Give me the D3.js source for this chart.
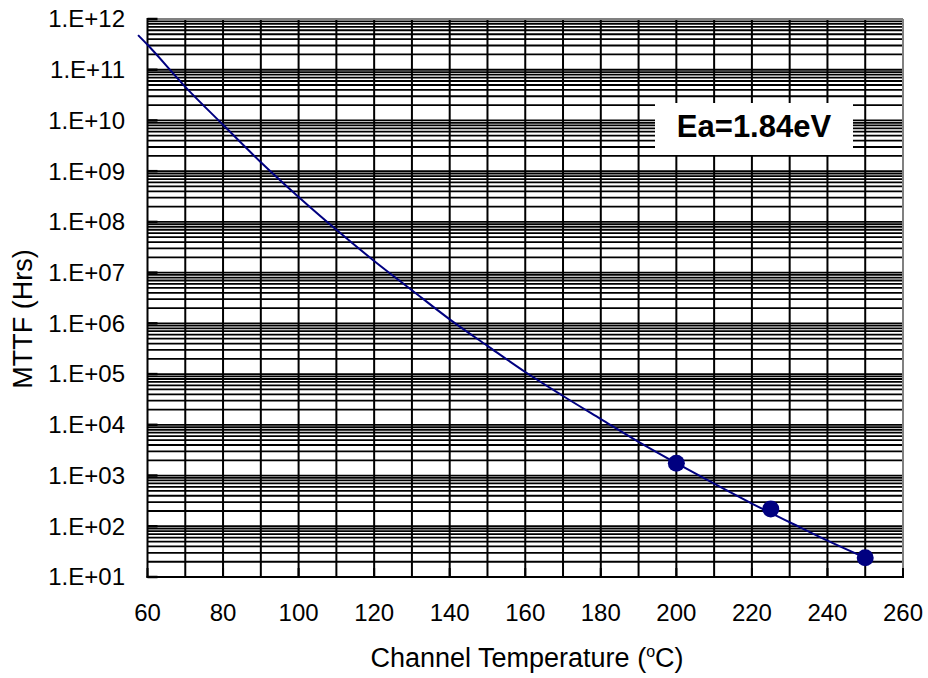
<!DOCTYPE html>
<html lang="en">
<head>
  <meta charset="UTF-8">
  <title>MTTF vs Channel Temperature</title>
  <style>
    body, html {
      margin: 0;
      padding: 0;
      background: #fff;
    }
    text {
      font-family: "Liberation Sans", Arial, sans-serif;
    }
  </style>
</head>
<body>
  <svg id="svg" width="928" height="678"></svg>

  <script src="https://d3js.org/d3.v7.min.js"></script>
  <script>
    // fitted curve
    const lineTemp = [57.5, 60, 70, 80, 90, 100, 110, 120, 130, 140, 150, 160, 170, 180, 190, 200, 210, 220, 230, 240, 250]
    const lineMttf = [4.8e11, 3.1e11, 4.6e10, 8.2e9, 1.5e9, 3.1e8, 7.0e7, 1.7e7, 4.5e6, 1.2e6, 3.6e5, 1.1e5, 3.7e4, 1.3e4, 4.6e3, 1.75e3, 6.9e2, 2.8e2, 1.2e2, 52, 24]

    // measured points
    const pointTemp = [200, 225, 250]
    const pointMttf = [1.75e3, 2.2e2, 24]

    const xTicks = [60, 80, 100, 120, 140, 160, 180, 200, 220, 240, 260]
    const yTicks = [1e1, 1e2, 1e3, 1e4, 1e5, 1e6, 1e7, 1e8, 1e9, 1e10, 1e11, 1e12]
    const yTickLabels = ['1.E+01', '1.E+02', '1.E+03', '1.E+04', '1.E+05', '1.E+06',
      '1.E+07', '1.E+08', '1.E+09', '1.E+10', '1.E+11', '1.E+12']

    // plot box (note: "top" is taken by window.top)
    const pLeft = 147.5, pRight = 903, pTop = 19, pBottom = 577

    const x = d3.scaleLinear().domain([60, 260]).range([pLeft, pRight])
    const y = d3.scaleLog().domain([1e1, 1e12]).range([pBottom, pTop])

    const svg = d3.select('#svg')

    // horizontal grid: every 1..9 x 10^k
    const minor = []
    for (let k = 1; k < 12; k++) {
      for (let m = 1; m < 10; m++) minor.push(m * Math.pow(10, k))
    }
    minor.push(1e12)

    svg.append('g')
      .selectAll('line')
      .data(minor)
      .join('line')
      .attr('x1', pLeft).attr('x2', pRight)
      .attr('y1', d => y(d)).attr('y2', d => y(d))
      .attr('stroke', 'black')
      .attr('stroke-width', 1.8)

    // vertical grid every 10 degrees
    const vGrid = d3.range(70, 260, 10)
    svg.append('g')
      .selectAll('line')
      .data(vGrid)
      .join('line')
      .attr('x1', d => x(d)).attr('x2', d => x(d))
      .attr('y1', pTop).attr('y2', pBottom)
      .attr('stroke', 'black')
      .attr('stroke-width', 2)

    // frame: top and right gray, left and bottom black
    svg.append('line')
      .attr('x1', pLeft).attr('x2', pRight).attr('y1', pTop).attr('y2', pTop)
      .attr('stroke', '#808080').attr('stroke-width', 2)
    svg.append('line')
      .attr('x1', pRight).attr('x2', pRight).attr('y1', pTop).attr('y2', pBottom)
      .attr('stroke', '#808080').attr('stroke-width', 2)
    svg.append('line')
      .attr('x1', pLeft).attr('x2', pLeft).attr('y1', pTop - 1).attr('y2', pBottom + 1)
      .attr('stroke', 'black').attr('stroke-width', 2)
    svg.append('line')
      .attr('x1', pLeft - 1).attr('x2', pRight + 1).attr('y1', pBottom).attr('y2', pBottom)
      .attr('stroke', 'black').attr('stroke-width', 2)

    // inside tick marks
    svg.append('g')
      .selectAll('line')
      .data(yTicks)
      .join('line')
      .attr('x1', pLeft).attr('x2', pLeft + 10)
      .attr('y1', d => y(d)).attr('y2', d => y(d))
      .attr('stroke', 'black')
      .attr('stroke-width', 2.5)
    svg.append('g')
      .selectAll('line')
      .data(xTicks)
      .join('line')
      .attr('x1', d => x(d)).attr('x2', d => x(d))
      .attr('y1', pBottom).attr('y2', pBottom - 9)
      .attr('stroke', 'black')
      .attr('stroke-width', 2)

    // tick labels
    svg.append('g')
      .selectAll('text')
      .data(yTicks)
      .join('text')
      .attr('x', 125)
      .attr('y', d => y(d))
      .attr('dy', '0.35em')
      .attr('text-anchor', 'end')
      .attr('font-size', 24)
      .text((d, i) => yTickLabels[i])

    svg.append('g')
      .selectAll('text')
      .data(xTicks)
      .join('text')
      .attr('x', d => x(d))
      .attr('y', 621)
      .attr('text-anchor', 'middle')
      .attr('font-size', 24)
      .text(d => d)

    // axis titles
    const xTitle = svg.append('text')
      .attr('x', 527)
      .attr('y', 667)
      .attr('text-anchor', 'middle')
      .attr('font-size', 27)
    xTitle.append('tspan').text('Channel Temperature (')
    xTitle.append('tspan').attr('font-size', 16).attr('dy', -10).text('o')
    xTitle.append('tspan').attr('dy', 10).text('C)')

    svg.append('text')
      .attr('transform', 'translate(32, 319) rotate(-90)')
      .attr('text-anchor', 'middle')
      .attr('font-size', 27)
      .text('MTTF (Hrs)')

    // fitted curve
    const line = d3.line()
      .x((d, i) => x(lineTemp[i]))
      .y(d => y(d))
      .curve(d3.curveMonotoneX)

    svg.append('path')
      .datum(lineMttf)
      .attr('d', line)
      .attr('fill', 'none')
      .attr('stroke', '#000080')
      .attr('stroke-width', 2)

    svg.append('g')
      .selectAll('circle')
      .data(pointMttf)
      .join('circle')
      .attr('cx', (d, i) => x(pointTemp[i]))
      .attr('cy', d => y(d))
      .attr('r', 8.5)
      .attr('fill', '#000080')

    // label box
    svg.append('rect')
      .attr('x', 655).attr('y', 103)
      .attr('width', 198).attr('height', 52)
      .attr('fill', 'white')
    svg.append('text')
      .attr('x', 754)
      .attr('y', 137)
      .attr('text-anchor', 'middle')
      .attr('font-size', 31)
      .attr('font-weight', 'bold')
      .text('Ea=1.84eV')
  </script>
</body>
</html>
